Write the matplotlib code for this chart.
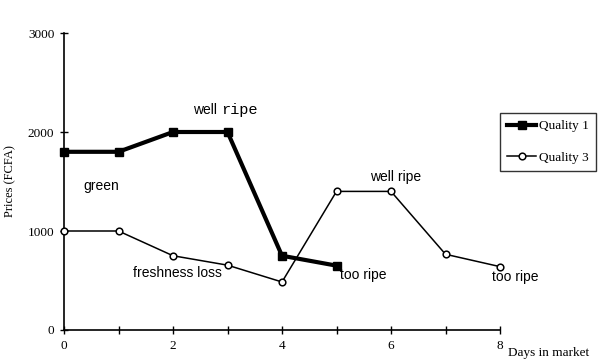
import matplotlib.pyplot as plt
from matplotlib.lines import Line2D

# prices (FCFA) per day in market
days_q1 = [0, 1, 2, 3, 4, 5]
price_q1 = [1800, 1800, 2000, 2000, 750, 650]
days_q3 = [0, 1, 2, 3, 4, 5, 6, 7, 8]
price_q3 = [1000, 1000, 750, 655, 485, 1400, 1400, 765, 640]

labels = ['green', 'freshness loss', 'too ripe', 'well ripe', 'too ripe']
label_x = [0.35, 1.27, 5.06, 5.61, 7.85]
label_y = [1455, 580, 560, 1550, 540]

serif = 'Liberation Serif'
sans = 'Liberation Sans'

fig = plt.figure(figsize=(6, 3.61), dpi=100)
ax = fig.add_axes([64/600, 31/361, 436/600, 297/361])

ax.plot(days_q1, price_q1, color='black', lw=3, marker='s', ms=6,
        mfc='black', mec='black', label='Quality 1', clip_on=False, zorder=3)
ax.plot(days_q3, price_q3, color='black', lw=1.1, marker='o', ms=4.8,
        mfc='white', mec='black', mew=1.1, label='Quality 3', clip_on=False, zorder=4)

ax.set_xlim(0, 8)
ax.set_ylim(0, 3000)
ax.set_xticks(range(0, 9))
ax.set_xticklabels(['0', '', '2', '', '4', '', '6', '', '8'])
ax.set_yticks([0, 1000, 2000, 3000])
ax.tick_params(direction='inout', length=6, width=1, labelsize=9.5, pad=4)
for lab in ax.get_xticklabels() + ax.get_yticklabels():
    lab.set_fontfamily(serif)
ax.spines['top'].set_visible(False)
ax.spines['right'].set_visible(False)
ax.spines['left'].set_linewidth(1.2)
ax.spines['bottom'].set_linewidth(1.2)

ax.set_ylabel('Prices (FCFA)', fontfamily=serif, fontsize=9, labelpad=8)
fig.text(508/600, 1 - 353/361, 'Days in market', fontfamily=serif, fontsize=9.5,
         va='center', ha='left')

for t, x, y in zip(labels, label_x, label_y):
    ax.text(x, y, t, fontfamily=sans, fontsize=10, va='center', ha='left')

# the top "well ripe" mixes two typefaces
t1 = ax.text(2.37, 2220, 'well ', fontfamily=sans, fontsize=10, va='center', ha='left')
fig.canvas.draw()
bb = t1.get_window_extent()
x2 = ax.transData.inverted().transform((bb.x1, bb.y0))[0]
ax.text(x2, 2220, 'ripe', fontfamily='Liberation Mono', fontsize=11, va='center', ha='left')

handles = [Line2D([], [], color='black', lw=3, marker='s', ms=6),
           Line2D([], [], color='black', lw=1.1, marker='o', ms=4.8, mfc='white', mew=1.1)]
leg = fig.legend(handles, ['Quality 1', 'Quality 3'], loc='upper left',
                 bbox_to_anchor=(500/600, 1 - 113/361), frameon=True, fancybox=False,
                 prop={'family': serif, 'size': 9.5}, handlelength=2.2, handletextpad=0.2,
                 labelspacing=1.45, borderpad=0.55, borderaxespad=0)
leg.get_frame().set_edgecolor('black')
leg.get_frame().set_linewidth(1)

fig.savefig('out.png', dpi=100)
